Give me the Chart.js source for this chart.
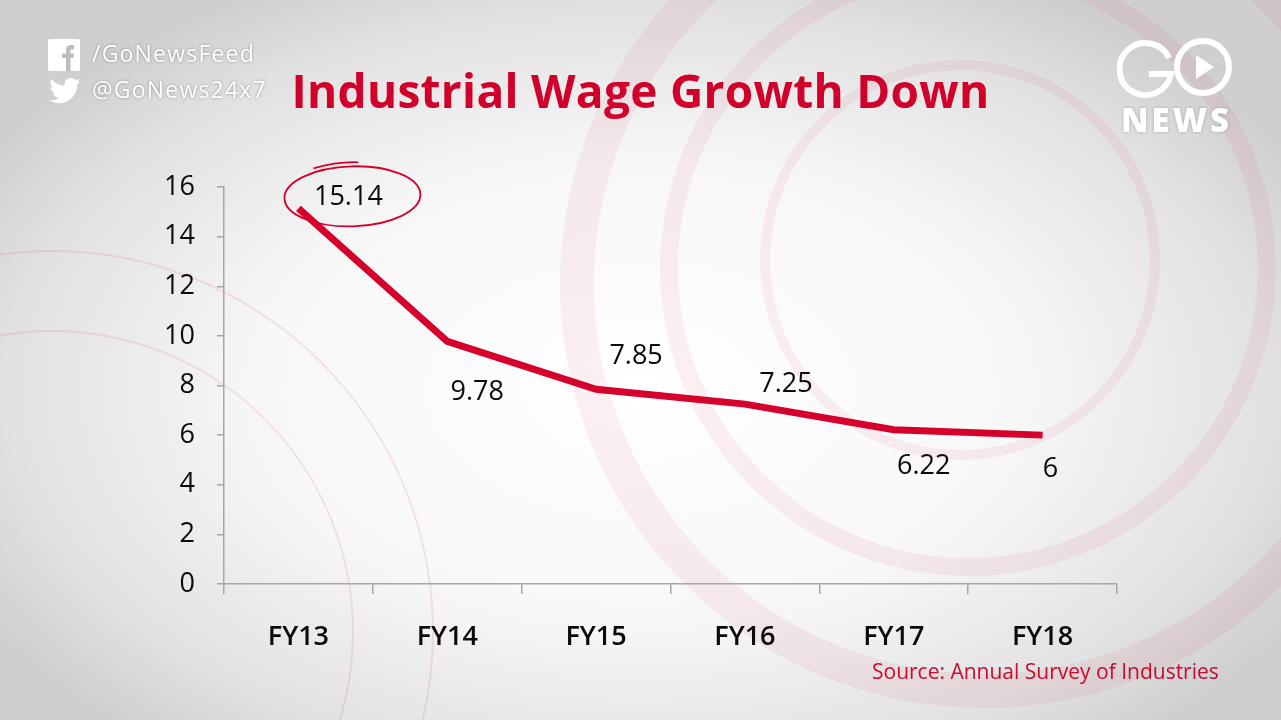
<!DOCTYPE html>
<html>
<head>
<meta charset="utf-8">
<script src="https://cdn.jsdelivr.net/npm/chart.js@4.4.1/dist/chart.umd.min.js"></script>
<style>
  html, body { margin: 0; padding: 0; }
  body {
    width: 1281px; height: 720px; overflow: hidden; position: relative;
    background: radial-gradient(ellipse 760px 460px at 640px 390px, #ffffff 0%, #f8f7f7 50%, #e2e2e2 82%, #cfcfcf 100%);
    font-family: "Open Sans", sans-serif;
  }
  .ring { position: absolute; border-radius: 50%; border-style: solid; border-color: rgba(215, 40, 65, 0.07); }
  #wrap { position: absolute; left: 0; top: 0; width: 1281px; height: 720px; }
  .title {
    position: absolute; left: 0; width: 1281px; top: 59px; text-align: center;
    color: #d1002b; font: 700 46px "Open Sans", sans-serif; letter-spacing: 0.3px;
  }
  .social { position: absolute; left: 48px; color: #fff; font: 500 23px "Open Sans", sans-serif;
    letter-spacing: 1.2px; text-shadow: 0 0 3px rgba(0,0,0,0.35); }
  .source { position: absolute; left: 872px; top: 657px; color: #cc0a30; font: 500 21px "Open Sans", sans-serif; }
  .news { position: absolute; left: 1121px; top: 97px; color: #fff; font: 800 33px "Open Sans", sans-serif;
    letter-spacing: 3px; text-shadow: 0 0 3px rgba(0,0,0,0.25); }
</style>
</head>
<body>
<div class="ring" style="left:560px;top:-140px;width:780px;height:780px;border-width:34px;"></div>
<div class="ring" style="left:660px;top:-40px;width:580px;height:580px;border-width:18px;"></div>
<div class="ring" style="left:760px;top:60px;width:380px;height:380px;border-width:10px;"></div>
<div class="ring" style="left:-330px;top:250px;width:760px;height:760px;border-width:2px;border-color:rgba(200,20,50,0.10);"></div>
<div class="ring" style="left:-250px;top:330px;width:600px;height:600px;border-width:2px;border-color:rgba(200,20,50,0.10);"></div>

<div id="wrap"><canvas id="wageChart"></canvas></div>

<div class="title">Industrial Wage Growth Down</div>

<svg style="position:absolute;left:48px;top:39px" width="34" height="34">
  <rect x="0" y="0" width="32" height="32" rx="2" fill="#fff"/>
  <path d="M18 32 V19 H14 V14.5 H18 V11 C18 7.5 20 6 23 6 H26 V10.5 H23.5 C22.6 10.5 22.5 11 22.5 12 V14.5 H26 L25.4 19 H22.5 V32 Z" fill="#bdbdbd"/>
</svg>
<div class="social" style="left:92px;top:37px">/GoNewsFeed</div>
<svg style="position:absolute;left:48px;top:77px" width="34" height="30" viewBox="0 0 24 20">
  <path d="M23 2.3c-.8.4-1.7.6-2.6.7.9-.6 1.6-1.4 2-2.5-.9.5-1.9.9-2.9 1.1C18.6.7 17.4.1 16.1.1c-2.5 0-4.5 2-4.5 4.5 0 .4 0 .7.1 1C7.9 5.4 4.6 3.6 2.4.9 2 1.6 1.8 2.3 1.8 3.2c0 1.6.8 2.9 2 3.7-.7 0-1.4-.2-2-.6v.1c0 2.2 1.6 4 3.6 4.4-.4.1-.8.2-1.2.2-.3 0-.6 0-.8-.1.6 1.8 2.2 3.1 4.2 3.1-1.5 1.2-3.5 1.9-5.6 1.9H.9c2 1.3 4.4 2 6.9 2 8.3 0 12.8-6.9 12.8-12.8v-.6c.9-.6 1.7-1.4 2.3-2.3z" fill="#fff"/>
</svg>
<div class="social" style="left:92px;top:73px">@GoNews24x7</div>

<svg style="position:absolute;left:1117px;top:36px" width="118" height="64">
  <path d="M52 22 A 26 26 0 1 0 54 38 H 32" fill="none" stroke="#fff" stroke-width="6"/>
  <circle cx="86" cy="31" r="26" fill="none" stroke="#fff" stroke-width="6"/>
  <path d="M79 19 L97 31 L79 43 Z" fill="#fff"/>
</svg>
<div class="news">NEWS</div>

<div class="source">Source: Annual Survey of Industries</div>

<script>
const categories = ['FY13', 'FY14', 'FY15', 'FY16', 'FY17', 'FY18'];
const wageGrowth = [15.14, 9.78, 7.85, 7.25, 6.22, 6];
const yMin = 0;
const yMax = 16;
const yStep = 2;

// where each value label sits relative to its point (styling only)
const labelOffsets = [[50, -11], [30, 51], [40, -33], [41, -20], [30, 37], [8, 34]];

const lineRed = '#d6002c';
const axisGrey = '#a6a6a6';

const valueLabels = {
  id: 'valueLabels',
  afterDatasetsDraw(chart) {
    const ctx = chart.ctx;
    const meta = chart.getDatasetMeta(0);
    ctx.save();
    ctx.font = '27px "Open Sans", sans-serif';
    ctx.fillStyle = '#0a0a0a';
    ctx.textAlign = 'center';
    ctx.textBaseline = 'middle';
    meta.data.forEach((pt, i) => {
      const [dx, dy] = labelOffsets[i];
      ctx.fillText(String(wageGrowth[i]), pt.x + dx, pt.y + dy);
      if (i === 0) {
        // hand drawn circle round the first value
        ctx.strokeStyle = lineRed;
        ctx.lineWidth = 1.8;
        ctx.beginPath();
        ctx.ellipse(pt.x + dx + 4, pt.y + dy - 1, 68, 30, -0.03, 0, Math.PI * 2);
        ctx.stroke();
        ctx.beginPath();
        ctx.moveTo(pt.x + dx - 35, pt.y + dy - 29);
        ctx.quadraticCurveTo(pt.x + dx - 10, pt.y + dy - 36, pt.x + dx + 10, pt.y + dy - 35);
        ctx.stroke();
      }
    });
    ctx.restore();
  }
};

const ctx = document.getElementById('wageChart').getContext('2d');
new Chart(ctx, {
  type: 'line',
  data: {
    labels: categories,
    datasets: [{
      data: wageGrowth,
      borderColor: lineRed,
      borderWidth: 7,
      pointRadius: 0,
      tension: 0,
      borderJoinStyle: 'miter',
      borderCapStyle: 'butt'
    }]
  },
  options: {
    responsive: true,
    maintainAspectRatio: false,
    animation: false,
    devicePixelRatio: 1,
    layout: { padding: { left: 140, right: 164, top: 187, bottom: 66 } },
    plugins: {
      legend: { display: false },
      title: { display: false },
      tooltip: { enabled: false }
    },
    scales: {
      x: {
        offset: true,
        afterFit: (s) => { s.height = 70; },
        border: { color: axisGrey, width: 1.5 },
        grid: { offset: true, drawOnChartArea: false, color: axisGrey, lineWidth: 1.5, tickLength: 10 },
        ticks: { color: '#0a0a0a', padding: 27, font: { family: '"Open Sans"', size: 27, weight: 600 } }
      },
      y: {
        min: yMin,
        max: yMax,
        afterFit: (s) => { s.width = 84; },
        border: { color: axisGrey, width: 1.5 },
        grid: { drawOnChartArea: false, color: axisGrey, lineWidth: 1.5, tickLength: 7 },
        ticks: { stepSize: yStep, color: '#0a0a0a', padding: 22, font: { family: '"Open Sans"', size: 27 } }
      }
    }
  },
  plugins: [valueLabels]
});
</script>
</body>
</html>
